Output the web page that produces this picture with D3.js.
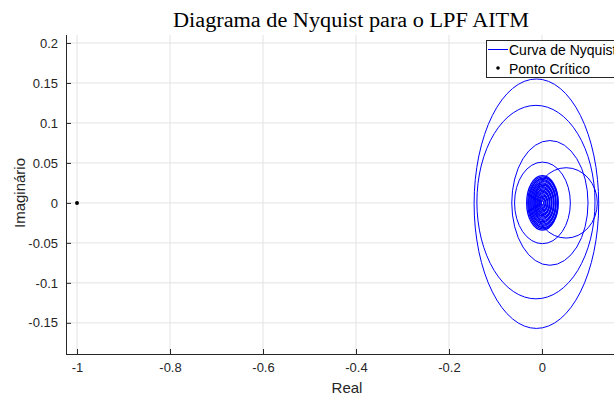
<!DOCTYPE html>
<html>
<head>
<meta charset="utf-8">
<script src="https://cdn.jsdelivr.net/npm/d3@7"></script>
<style>
  body { margin: 0; background: #fff; }
  svg { display: block; }
</style>
</head>
<body>
<svg id="chart" width="614" height="399"></svg>
<script>
// tick values
var xTicks = [-1, -0.8, -0.6, -0.4, -0.2, 0];
var yTicks = [-0.15, -0.1, -0.05, 0, 0.05, 0.1, 0.15, 0.2];

// large loops of the Nyquist curve (centre and half-widths, data units)
var loopCx = [-0.012, -0.013, 0.017, 0.001, 0.052];
var loopCy = [-0.001, 0.001, 0.000, 0.000, 0.000];
var loopRx = [0.134, 0.127, 0.082, 0.060, 0.067];
var loopRy = [0.156, 0.121, 0.078, 0.051, 0.044];

// dense rings around the origin
var ringR = [0.034, 0.0325, 0.031, 0.0295, 0.028, 0.0265, 0.025, 0.0235, 0.022,
             0.0205, 0.019, 0.0175, 0.016, 0.0145, 0.013, 0.0115, 0.010, 0.0085,
             0.007, 0.0055, 0.004, 0.0025];

// critical point
var critX = [-1];
var critY = [0];

var svg = d3.select("#chart");
var plot = { left: 66, right: 636, top: 35, bottom: 354 };

var x = d3.scaleLinear().domain([-1.0237, 0.2022]).range([plot.left, plot.right]);
var y = d3.scaleLinear().domain([-0.189, 0.21]).range([plot.bottom, plot.top]);

var sans = "'Liberation Sans', Arial, Helvetica, sans-serif";
var fmt = function(d) { return String(+d.toFixed(2)); };

// grid
svg.append("g").selectAll("line").data(xTicks.concat([0.2])).enter().append("line")
    .attr("x1", function(d) { return x(d); })
    .attr("x2", function(d) { return x(d); })
    .attr("y1", plot.top).attr("y2", plot.bottom)
    .attr("stroke", "#e3e3e3").attr("stroke-width", 1);
svg.append("g").selectAll("line").data(yTicks).enter().append("line")
    .attr("y1", function(d) { return y(d); })
    .attr("y2", function(d) { return y(d); })
    .attr("x1", plot.left).attr("x2", plot.right)
    .attr("stroke", "#e3e3e3").attr("stroke-width", 1);

// axes
var xAxis = d3.axisBottom(x).tickValues(xTicks).tickSize(-5).tickPadding(9).tickFormat(fmt);
var yAxis = d3.axisLeft(y).tickValues(yTicks).tickSize(-5).tickPadding(8).tickFormat(fmt);

var gx = svg.append("g").attr("transform", "translate(0," + plot.bottom + ")").call(xAxis);
var gy = svg.append("g").attr("transform", "translate(" + plot.left + ",0)").call(yAxis);
[gx, gy].forEach(function(g) {
    g.select(".domain").attr("stroke", "#262626");
    g.selectAll(".tick line").attr("stroke", "#262626");
    g.selectAll(".tick text").attr("fill", "#262626")
        .style("font-family", sans).style("font-size", "13px");
});
gx.select(".domain").attr("d", "M" + plot.left + ",0.5H" + plot.right);
gy.select(".domain").attr("d", "M0.5," + plot.bottom + "V" + plot.top);

// curve loops
var curves = svg.append("g").attr("fill", "none").attr("stroke", "#0000ff");
curves.selectAll(".loop").data(loopCx).enter().append("ellipse")
    .attr("class", "loop")
    .attr("stroke-width", 1)
    .attr("cx", function(d) { return x(d); })
    .attr("cy", function(d, i) { return y(loopCy[i]); })
    .attr("rx", function(d, i) { return x(d + loopRx[i]) - x(d); })
    .attr("ry", function(d, i) { return y(0) - y(loopRy[i]); });
curves.selectAll(".ring").data(ringR).enter().append("ellipse")
    .attr("class", "ring")
    .attr("stroke-width", 1.2)
    .attr("cx", function(d, i) { return x(0.001 + (i % 3) * 0.0008); })
    .attr("cy", y(0))
    .attr("rx", function(d) { return x(d) - x(0); })
    .attr("ry", function(d) { return y(0) - y(d); });

// critical point
svg.selectAll(".crit").data(critX).enter().append("circle")
    .attr("class", "crit")
    .attr("cx", function(d) { return x(d); })
    .attr("cy", function(d, i) { return y(critY[i]); })
    .attr("r", 2).attr("fill", "#000");

// title and labels
svg.append("text").attr("x", 351).attr("y", 27).attr("text-anchor", "middle")
    .attr("textLength", 356).attr("lengthAdjust", "spacingAndGlyphs")
    .style("font-family", "'Liberation Serif', 'DejaVu Serif', serif").style("font-size", "20px")
    .attr("fill", "#000").text("Diagrama de Nyquist para o LPF AITM");
svg.append("text").attr("x", 347).attr("y", 393).attr("text-anchor", "middle")
    .style("font-family", sans).style("font-size", "15px").attr("fill", "#262626").text("Real");
svg.append("text").attr("transform", "translate(25,193) rotate(-90)").attr("text-anchor", "middle")
    .style("font-family", sans).style("font-size", "15px").attr("fill", "#262626").text("Imaginário");

// legend
var lg = svg.append("g").attr("transform", "translate(486,40)");
lg.append("rect").attr("x", 0.5).attr("y", 0.5).attr("width", 145).attr("height", 37)
    .attr("fill", "#fff").attr("stroke", "#262626").attr("stroke-width", 1);
lg.append("line").attr("x1", 2).attr("x2", 22).attr("y1", 9.5).attr("y2", 9.5)
    .attr("stroke", "#0000ff").attr("stroke-width", 1);
lg.append("circle").attr("cx", 12).attr("cy", 28).attr("r", 1.8).attr("fill", "#000");
lg.append("text").attr("x", 23).attr("y", 14.5).style("font-family", sans).style("font-size", "14px")
    .attr("fill", "#000").text("Curva de Nyquist");
lg.append("text").attr("x", 23).attr("y", 33.5).style("font-family", sans).style("font-size", "14px")
    .attr("fill", "#000").text("Ponto Crítico");
</script>
</body>
</html>
